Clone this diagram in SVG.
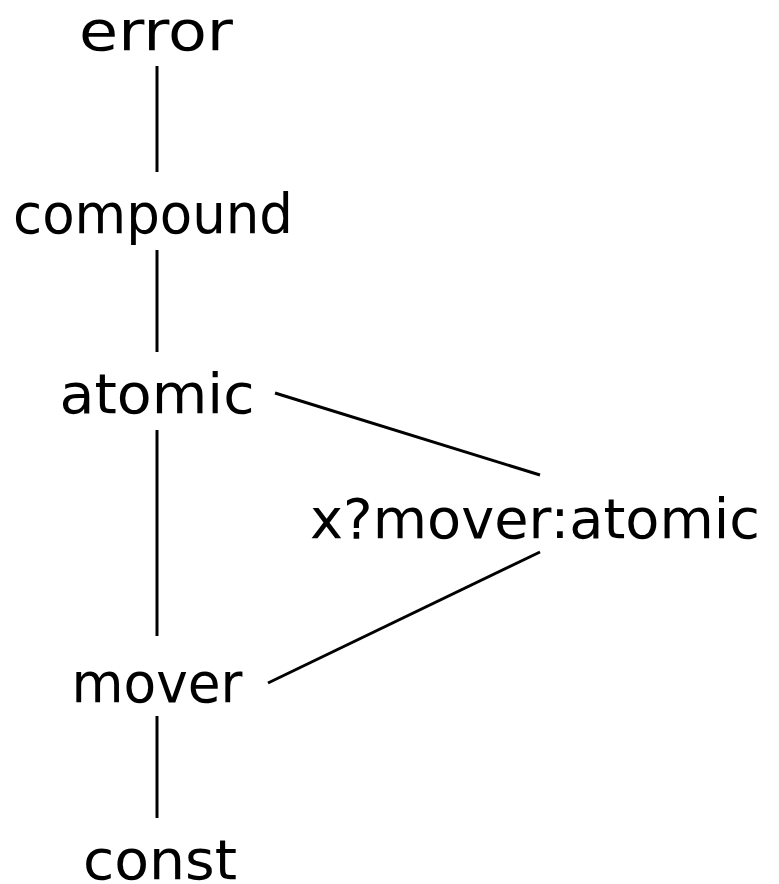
<svg xmlns="http://www.w3.org/2000/svg" width="779" height="884" viewBox="0 0 779 884">
<style>
text{font-family:"DejaVu Sans","Liberation Sans",sans-serif;font-size:56px;fill:#000;text-anchor:middle}
.c line{stroke:#000;stroke-width:3;stroke-linecap:butt}
</style>
<rect width="779" height="884" fill="#fff"/>
<g class="c" id="connectors">
<line x1="157" y1="66" x2="157" y2="172"/>
<line x1="157" y1="250" x2="157" y2="352"/>
<line x1="157" y1="430" x2="157" y2="636"/>
<line x1="157" y1="716" x2="157" y2="818"/>
<line x1="275" y1="393" x2="540" y2="475"/>
<line x1="268" y1="683" x2="540" y2="552"/>
</g>
<g id="error"><text x="156" y="50" textLength="154" lengthAdjust="spacingAndGlyphs">error</text></g>
<g id="compound"><text x="153" y="233" textLength="280" lengthAdjust="spacingAndGlyphs">compound</text></g>
<g id="atomic"><text x="157" y="413" textLength="195" lengthAdjust="spacingAndGlyphs">atomic</text></g>
<g id="xmover"><text x="535" y="538" textLength="450" lengthAdjust="spacingAndGlyphs">x?mover:atomic</text></g>
<g id="mover"><text x="157" y="702" textLength="171" lengthAdjust="spacingAndGlyphs">mover</text></g>
<g id="const"><text x="160" y="879" textLength="154" lengthAdjust="spacingAndGlyphs">const</text></g>
</svg>
